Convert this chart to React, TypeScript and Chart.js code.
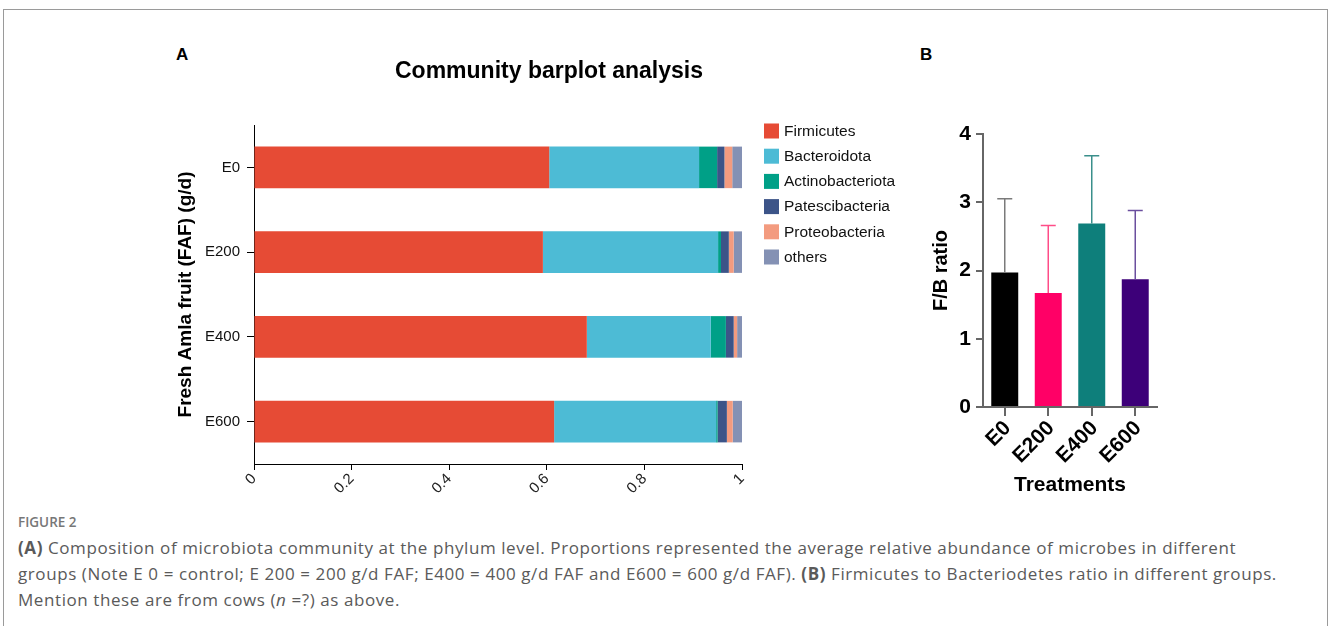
import React, { useEffect, useRef } from "react";
import { Chart, registerables } from "chart.js";

Chart.register(...registerables);

const FONT = "'Liberation Sans', Arial, Helvetica, sans-serif";

// Panel A data
const titleA = "Community barplot analysis";
const groups = ["E0", "E200", "E400", "E600"];
const phyla = ["Firmicutes", "Bacteroidota", "Actinobacteriota", "Patescibacteria", "Proteobacteria", "others"];
const firmicutes = [0.605, 0.592, 0.682, 0.615];
const bacteroidota = [0.307, 0.359, 0.254, 0.332];
const actinobacteriota = [0.037, 0.006, 0.031, 0.003];
const patescibacteria = [0.015, 0.016, 0.016, 0.019];
const proteobacteria = [0.016, 0.010, 0.007, 0.012];
const others = [0.020, 0.017, 0.010, 0.019];
const phylaColors = ["#E64B35", "#4DBBD5", "#00A087", "#3C5488", "#F39B7F", "#8491B4"];
const xTickLabels = ["0", "0.2", "0.4", "0.6", "0.8", "1"];

// Panel B data
const fbRatio = [1.97, 1.67, 2.69, 1.87];
const fbSD = [1.08, 0.99, 0.99, 1.01];
const fbColors = ["#000000", "#FF0066", "#0E7F7B", "#3D0079"];
const fbErrColors = ["#7a7a7a", "#ff4d88", "#3a8f8b", "#6b4f9e"];
const yTickLabelsB = ["0", "1", "2", "3", "4"];

const titlePlugin = {
  id: "centeredTitle",
  afterDraw(chart: any) {
    const { ctx } = chart;
    ctx.save();
    ctx.font = `bold 23px ${FONT}`;
    ctx.fillStyle = "#000";
    ctx.textAlign = "center";
    ctx.textBaseline = "middle";
    ctx.fillText(titleA, chart.width / 2, 32);
    ctx.restore();
  },
};

const legendPlugin = {
  id: "customLegend",
  afterDraw(chart: any) {
    const { ctx, chartArea } = chart;
    ctx.save();
    ctx.font = `15.5px ${FONT}`;
    ctx.textBaseline = "middle";
    ctx.textAlign = "left";
    chart.data.datasets.forEach((ds: any, i: number) => {
      const cy = chartArea.top + 6 + i * 25.2;
      ctx.fillStyle = ds.backgroundColor;
      ctx.fillRect(chartArea.right + 22, cy - 7.5, 15, 15);
      ctx.fillStyle = "#111";
      ctx.fillText(ds.label, chartArea.right + 42, cy + 0.5);
    });
    ctx.restore();
  },
};

const errorBarPlugin = {
  id: "errorBars",
  afterDatasetsDraw(chart: any) {
    const { ctx } = chart;
    const meta = chart.getDatasetMeta(0);
    const yScale = chart.scales.y;
    ctx.save();
    ctx.lineWidth = 1.5;
    meta.data.forEach((bar: any, i: number) => {
      const v = fbRatio[i];
      const yTop = yScale.getPixelForValue(v + fbSD[i]);
      const yBase = yScale.getPixelForValue(v);
      ctx.strokeStyle = fbErrColors[i];
      ctx.beginPath();
      ctx.moveTo(bar.x, yBase);
      ctx.lineTo(bar.x, yTop);
      ctx.moveTo(bar.x - 7.5, yTop);
      ctx.lineTo(bar.x + 7.5, yTop);
      ctx.stroke();
    });
    ctx.restore();
  },
};

function PanelA() {
  const ref = useRef<HTMLCanvasElement>(null);
  useEffect(() => {
    const series = [firmicutes, bacteroidota, actinobacteriota, patescibacteria, proteobacteria, others];
    const chart = new Chart(ref.current as HTMLCanvasElement, {
      type: "bar",
      data: {
        labels: groups,
        datasets: phyla.map((p, i) => ({
          label: p,
          data: series[i],
          backgroundColor: phylaColors[i],
          borderWidth: 0,
          barPercentage: 0.49,
          categoryPercentage: 1,
        })),
      },
      options: {
        indexAxis: "y",
        responsive: false,
        animation: false,
        layout: { padding: { left: 0, right: 186, top: 85, bottom: 0 } },
        plugins: {
          legend: { display: false },
          tooltip: { enabled: false },
          title: { display: false },
        },
        scales: {
          x: {
            type: "linear",
            stacked: true,
            min: 0,
            max: 1,
            ticks: {
              stepSize: 0.2,
              minRotation: 45,
              maxRotation: 45,
              padding: 0,
              color: "#222",
              font: { family: FONT, size: 15 },
              callback: (_v: any, i: number) => xTickLabels[i],
            },
            grid: { display: true, drawOnChartArea: false, drawTicks: true, tickLength: 6, color: "#000" },
            border: { display: true, color: "#000", width: 1 },
            afterFit: (s: any) => {
              s.height = 36;
            },
          },
          y: {
            stacked: true,
            ticks: { color: "#111", font: { family: FONT, size: 15 }, padding: 7 },
            grid: { display: true, drawOnChartArea: false, drawTicks: true, tickLength: 7, color: "#000", offset: false },
            border: { display: true, color: "#000", width: 1 },
            title: {
              display: true,
              text: "Fresh Amla fruit (FAF) (g/d)",
              color: "#000",
              font: { family: FONT, size: 19, weight: "bold" },
              padding: { top: 4, bottom: 0 },
            },
            afterFit: (s: any) => {
              s.width = 84;
            },
          },
        },
      } as any,
      plugins: [titlePlugin, legendPlugin],
    });
    return () => chart.destroy();
  }, []);
  return (
    <canvas
      ref={ref}
      width={758}
      height={460}
      style={{ position: "absolute", left: 170, top: 40, width: 758, height: 460 }}
    />
  );
}

function PanelB() {
  const ref = useRef<HTMLCanvasElement>(null);
  useEffect(() => {
    const chart = new Chart(ref.current as HTMLCanvasElement, {
      type: "bar",
      data: {
        labels: groups,
        datasets: [
          {
            label: "F/B ratio",
            data: fbRatio,
            backgroundColor: fbColors,
            borderWidth: 0,
            barPercentage: 0.62,
            categoryPercentage: 1,
          },
        ],
      },
      options: {
        responsive: false,
        animation: false,
        layout: { padding: { left: 0, right: 13, top: 34, bottom: 0 } },
        plugins: { legend: { display: false }, tooltip: { enabled: false } },
        scales: {
          y: {
            min: 0,
            max: 4,
            ticks: {
              stepSize: 1,
              padding: 5,
              color: "#000",
              font: { family: FONT, size: 21, weight: "bold" },
              callback: (_v: any, i: number) => yTickLabelsB[i],
            },
            grid: { display: true, drawOnChartArea: false, drawTicks: true, tickLength: 7, color: "#666", lineWidth: 2 },
            border: { display: true, color: "#666", width: 2 },
            title: {
              display: true,
              text: "F/B ratio",
              color: "#000",
              font: { family: FONT, size: 20, weight: "bold" },
              padding: { top: 29, bottom: 0 },
            },
            afterFit: (s: any) => {
              s.width = 83;
            },
          },
          x: {
            ticks: {
              minRotation: 45,
              maxRotation: 45,
              padding: 0,
              labelOffset: 3,
              color: "#000",
              font: { family: FONT, size: 21, weight: "bold" },
            },
            grid: { display: true, drawOnChartArea: false, drawTicks: true, tickLength: 9, color: "#666", lineWidth: 2, offset: false },
            border: { display: true, color: "#666", width: 2 },
            title: {
              display: true,
              text: "Treatments",
              color: "#000",
              font: { family: FONT, size: 21, weight: "bold" },
              padding: { top: 0, bottom: 2 },
            },
            afterFit: (s: any) => {
              s.height = 93;
            },
          },
        },
      } as any,
      plugins: [errorBarPlugin],
    });
    return () => chart.destroy();
  }, []);
  return (
    <canvas
      ref={ref}
      width={270}
      height={400}
      style={{ position: "absolute", left: 900, top: 100, width: 270, height: 400 }}
    />
  );
}

const capFont = "'Open Sans', 'Noto Sans', sans-serif";

export default function App() {
  return (
    <div
      style={{
        position: "absolute",
        left: 0,
        top: 0,
        width: 1331,
        height: 626,
        overflow: "hidden",
        background: "#fff",
      }}
    >
      <div
        style={{
          position: "absolute",
          left: 3,
          top: 9,
          width: 1323,
          height: 700,
          border: "1px solid #9a9a9a",
        }}
      />
      <div style={{ position: "absolute", left: 176, top: 45, font: `bold 17px ${FONT}`, color: "#000" }}>A</div>
      <div style={{ position: "absolute", left: 920, top: 45, font: `bold 17px ${FONT}`, color: "#000" }}>B</div>
      <PanelA />
      <PanelB />
      <div
        style={{
          position: "absolute",
          left: 18,
          top: 513,
          font: `600 13.5px ${capFont}`,
          color: "#777",
          whiteSpace: "nowrap",
        }}
      >
        FIGURE 2
      </div>
      <div
        style={{
          position: "absolute",
          left: 18,
          top: 535,
          font: `17px/26px ${capFont}`,
          letterSpacing: "0.58px",
          color: "#5a5a5a",
          whiteSpace: "nowrap",
        }}
      >
        <div>
          <b>(A)</b> Composition of microbiota community at the phylum level. Proportions represented the average relative abundance of microbes in different
        </div>
        <div>
          groups (Note E 0 = control; E 200 = 200 g/d FAF; E400 = 400 g/d FAF and E600 = 600 g/d FAF). <b>(B)</b> Firmicutes to Bacteriodetes ratio in different groups.
        </div>
        <div>
          Mention these are from cows (<i>n</i> =?) as above.
        </div>
      </div>
    </div>
  );
}
